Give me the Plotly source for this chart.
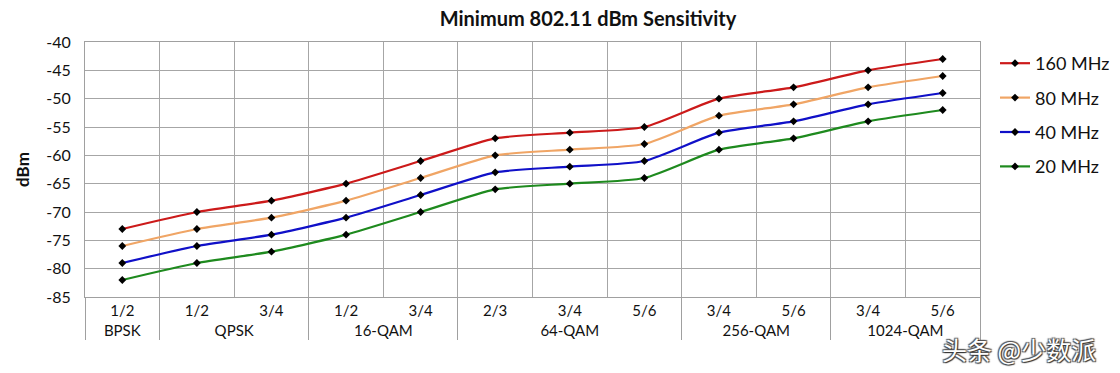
import plotly.graph_objects as go

# Page body has an 8px margin, so the figure is laid out 8px smaller/shifted.
OFF = 8
W, H = 1120 - OFF, 373 - OFF

groups = ["BPSK", "QPSK", "QPSK", "16-QAM", "16-QAM", "64-QAM", "64-QAM", "64-QAM",
          "256-QAM", "256-QAM", "1024-QAM", "1024-QAM"]
# the 64-QAM "3/4" carries a zero-width space so Plotly keeps 2/3 before it
codes = ["1/2", "1/2", "3/4", "1/2", "3/4", "2/3", "3/4\u200b", "5/6", "3/4", "5/6", "3/4", "5/6"]

mhz160 = [-73, -70, -68, -65, -61, -57, -56, -55, -50, -48, -45, -43]
mhz80 = [-76, -73, -71, -68, -64, -60, -59, -58, -53, -51, -48, -46]
mhz40 = [-79, -76, -74, -71, -67, -63, -62, -61, -56, -54, -51, -49]
mhz20 = [-82, -79, -77, -74, -70, -66, -65, -64, -59, -57, -54, -52]

y_ticks = [-85, -80, -75, -70, -65, -60, -55, -50, -45, -40]
y_tick_labels = ["-85", "-80", "-75", "-70", "-65", "-60", "-55", "-50", "-45", "-40"]

series = [
    ("160 MHz", mhz160, "#CC1A1A"),
    ("80 MHz", mhz80, "#F0A565"),
    ("40 MHz", mhz40, "#1010C8"),
    ("20 MHz", mhz20, "#1E8A1E"),
]

L, R, T, B = 85 - OFF, 1120 - 980, 42 - OFF, 373 - 297
PW, PH = W - L - R, H - T - B

def px_x(x):  # screenshot x -> paper
    return (x - OFF - L) / PW

def px_y(y):  # screenshot y -> paper
    return (H - B - (y - OFF)) / PH

FONT = "Lato"
fig = go.Figure()
for i, (name, vals, col) in enumerate(series):
    fig.add_trace(go.Scatter(
        x=[groups, codes], y=vals, name=name, mode="lines+markers",
        line=dict(color=col, width=2.2, shape="spline", smoothing=0.6),
        marker=dict(symbol="diamond", size=6, color="black"),
        legendgroup=f"g{i}",
    ))

fig.update_layout(
    width=W, height=H,
    margin=dict(l=L, r=R, t=T, b=B, autoexpand=False),
    paper_bgcolor="white", plot_bgcolor="white",
    font=dict(family=FONT, size=15, color="#111"),
    title=dict(text="Minimum 802.11 dBm Sensitivity", x=(588 - OFF) / W, xanchor="center",
               y=1 - 4 / H, yanchor="top", pad=dict(t=0),
               font=dict(size=20, color="#111", weight="bold")),
    showlegend=True,
    legend=dict(x=px_x(995), xanchor="left", y=px_y(45), yanchor="top",
                font=dict(size=18, color="#111"), tracegroupgap=8,
                bgcolor="rgba(0,0,0,0)"),
)
fig.update_xaxes(
    type="multicategory", range=[-0.5, len(codes) - 0.5],
    tickson="boundaries", ticks="", automargin=False,
    showgrid=True, gridcolor="#A6A6A6", gridwidth=1,
    showline=True, linecolor="#A0A0A0", mirror=True,
    showdividers=True, dividercolor="#A0A0A0", dividerwidth=1,
    tickfont=dict(size=15, color="#111"),
)
fig.update_yaxes(
    range=[-85, -40], tickmode="array", tickvals=y_ticks, ticktext=y_tick_labels,
    automargin=False, ticklabelstandoff=10,
    showgrid=True, gridcolor="#A6A6A6", gridwidth=1,
    showline=True, linecolor="#A0A0A0", mirror=True, zeroline=False,
    ticks="", tickfont=dict(size=16, color="#111"),
    title=dict(text="dBm", font=dict(size=17, color="#111", weight="bold"), standoff=12),
)
fig.add_annotation(
    text="头条 @少数派", xref="paper", yref="paper",
    x=px_x(1019), y=px_y(349), xanchor="center", yanchor="middle",
    showarrow=False,
    font=dict(family="Noto Sans CJK SC", size=25, color="white",
              shadow="1px 1px 1px #333, -1px -1px 1px #555, 1px -1px 1px #555, -1px 1px 1px #555"),
)
fig.write_html("out.html")
